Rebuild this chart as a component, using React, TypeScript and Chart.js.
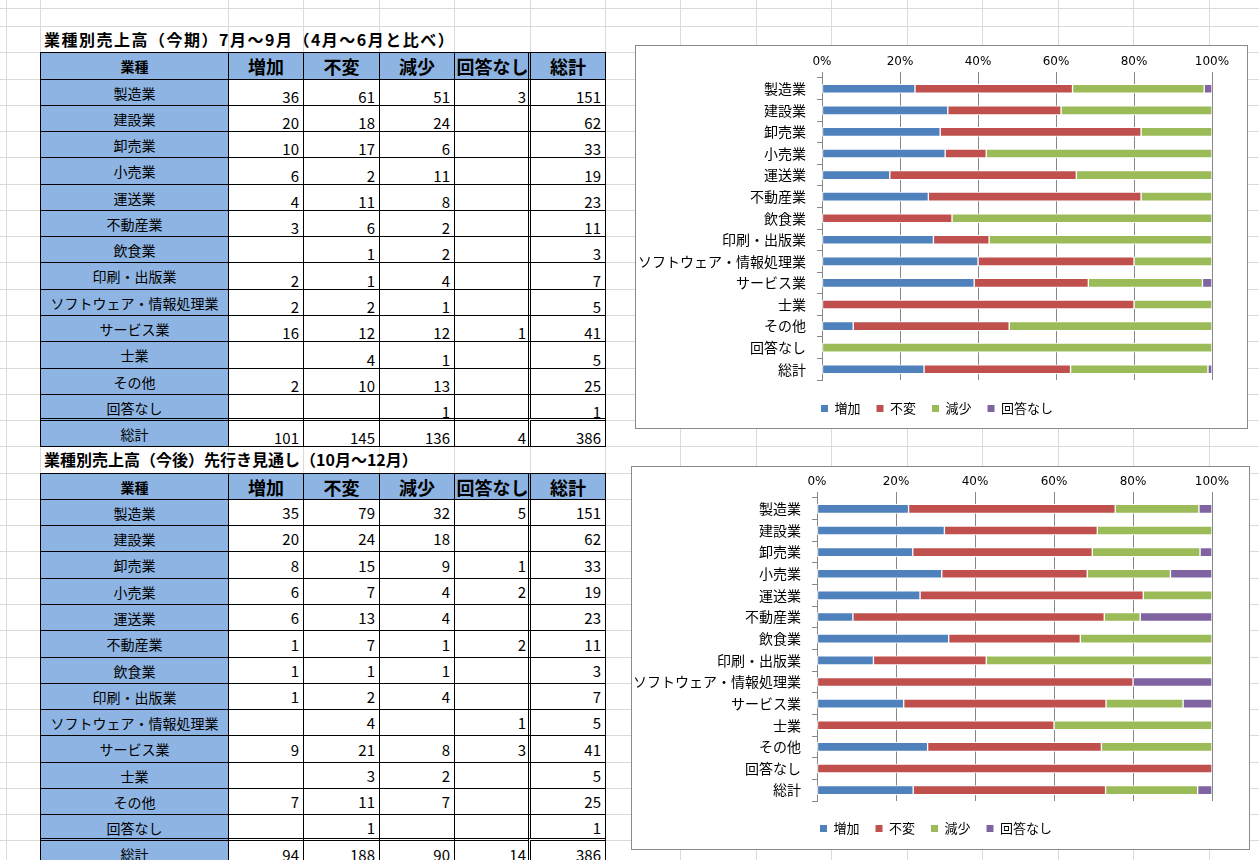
import React, { useEffect, useRef } from "react";
import { Chart, registerables } from "chart.js";

Chart.register(...registerables);

// ---------- data ----------
const industries = [
  "製造業",
  "建設業",
  "卸売業",
  "小売業",
  "運送業",
  "不動産業",
  "飲食業",
  "印刷・出版業",
  "ソフトウェア・情報処理業",
  "サービス業",
  "士業",
  "その他",
  "回答なし",
  "総計",
];
const seriesNames = ["増加", "不変", "減少", "回答なし"];
const tableHeaders = ["業種", "増加", "不変", "減少", "回答なし", "総計"];
const percentTicks = ["0%", "20%", "40%", "60%", "80%", "100%"];

const title1 = "業種別売上高（今期）7月～9月（4月～6月と比べ）";
const title2 = "業種別売上高（今後）先行き見通し（10月～12月）";

// 今期 (7月～9月)
const nowIncrease = [36, 20, 10, 6, 4, 3, null, 2, 2, 16, null, 2, null, 101];
const nowSame = [61, 18, 17, 2, 11, 6, 1, 1, 2, 12, 4, 10, null, 145];
const nowDecrease = [51, 24, 6, 11, 8, 2, 2, 4, 1, 12, 1, 13, 1, 136];
const nowNoAnswer = [3, null, null, null, null, null, null, null, null, 1, null, null, null, 4];
const nowTotal = [151, 62, 33, 19, 23, 11, 3, 7, 5, 41, 5, 25, 1, 386];

// 今後 (10月～12月)
const nextIncrease = [35, 20, 8, 6, 6, 1, 1, 1, null, 9, null, 7, null, 94];
const nextSame = [79, 24, 15, 7, 13, 7, 1, 2, 4, 21, 3, 11, 1, 188];
const nextDecrease = [32, 18, 9, 4, 4, 1, 1, 4, null, 8, 2, 7, null, 90];
const nextNoAnswer = [5, null, 1, 2, null, 2, null, null, 1, 3, null, null, null, 14];
const nextTotal = [151, 62, 33, 19, 23, 11, 3, 7, 5, 41, 5, 25, 1, 386];

const seriesColors = ["#4F81BD", "#C0504D", "#9BBB59", "#8064A2"];

// ---------- layout ----------
const FONT = "'Noto Sans CJK JP', sans-serif";
const gridColsX = [6, 40, 228, 303, 379, 454, 530, 605, 680, 756, 831, 907, 982, 1058, 1133, 1209];
const tableColsX = [40, 228, 303, 379, 454, 530, 605];
const ROW_H = 26.27;
const FIRST_ROW = 52.3;
const gridRowsY: number[] = [8];
for (let k = -1; k < 32; k++) gridRowsY.push(Math.round(FIRST_ROW + k * ROW_H));

type Num = number | null;

function SheetGrid() {
  return (
    <>
      {gridColsX.map((x) => (
        <div key={"c" + x} style={{ position: "absolute", left: x, top: 0, width: 1, height: 860, background: "#dadada" }} />
      ))}
      {gridRowsY.map((y, i) => (
        <div key={"r" + i} style={{ position: "absolute", left: 0, top: y, width: 1259, height: 1, background: "#dadada" }} />
      ))}
    </>
  );
}

function DataTable(props: {
  title: string;
  titleSpacing: number;
  top: number;
  cols: Num[][];
  valign: "flex-end" | "center";
}) {
  const rowTop = (k: number) => Math.round(props.top + k * ROW_H);
  const cells: React.ReactNode[] = [];
  for (let r = 0; r <= industries.length; r++) {
    for (let c = 0; c < 6; c++) {
      const x = tableColsX[c];
      const w = tableColsX[c + 1] - x;
      const y = rowTop(r);
      const h = rowTop(r + 1) - y;
      const style: React.CSSProperties = {
        position: "absolute",
        left: x,
        top: y,
        width: w + 1,
        height: h + 1,
        boxSizing: "border-box",
        border: "1px solid #000",
        background: r === 0 || c === 0 ? "#8DB4E2" : "#fff",
        display: "flex",
        alignItems: "center",
        justifyContent: "center",
        whiteSpace: "nowrap",
        color: "#000",
        overflow: "visible",
      };
      if (c === 5) {
        style.left = x - 2;
        style.width = w + 3;
        style.borderLeft = "3px double #000";
      }
      if (r === industries.length) {
        style.top = y - 2;
        style.height = h + 3;
        style.borderTop = "3px double #000";
      }
      let text: string = "";
      if (r === 0) {
        text = tableHeaders[c];
        style.fontWeight = "bold";
        style.fontSize = c === 0 ? 14 : 18;
      } else if (c === 0) {
        text = industries[r - 1];
        style.fontSize = 14;
      } else {
        const v = props.cols[c - 1][r - 1];
        text = v === null ? "" : String(v);
        style.fontSize = 15;
        style.justifyContent = "flex-end";
        style.alignItems = props.valign;
        style.paddingRight = 4;
        style.lineHeight = props.valign === "flex-end" ? "17px" : "normal";
      }
      cells.push(
        <div key={r + "-" + c} style={style}>
          {text}
        </div>
      );
    }
  }
  return (
    <>
      <div
        style={{
          position: "absolute",
          left: 44,
          top: rowTop(-1),
          height: ROW_H,
          lineHeight: ROW_H + "px",
          fontSize: 16,
          fontWeight: "bold",
          letterSpacing: props.titleSpacing,
          whiteSpace: "nowrap",
          color: "#000",
        }}
      >
        {props.title}
      </div>
      {cells}
    </>
  );
}

type ChartProps = {
  left: number;
  top: number;
  width: number;
  height: number;
  plotLeft: number;
  plotRight: number;
  plotTop: number;
  plotBottom: number;
  legendShift: number;
  legendShiftX: number;
  series: Num[][];
  totals: number[];
};

function StackedChart(p: ChartProps) {
  const ref = useRef<HTMLCanvasElement>(null);
  const cw = p.width - 2;
  const ch = p.height - 2;
  useEffect(() => {
    const legendPad = 16;
    const legendFont = 13;
    const legendHeight = legendFont + legendPad + 10;
    const shiftPlugin = {
      id: "legendShift",
      afterLayout(chart: any) {
        const lg = chart.legend;
        if (lg) {
          lg.top += p.legendShift;
          lg.bottom += p.legendShift;
          lg.left += p.legendShiftX;
          lg.right += p.legendShiftX;
        }
      },
    };
    const chart = new Chart(ref.current!, {
      type: "bar",
      data: {
        labels: industries,
        datasets: p.series.map((s, k) => ({
          label: seriesNames[k],
          data: s.map((v, i) => ((v ?? 0) / p.totals[i]) * 100),
          backgroundColor: seriesColors[k],
          borderColor: "#ffffff",
          borderWidth: 1,
          borderSkipped: false,
          barThickness: 9,
        })),
      },
      options: {
        indexAxis: "y",
        animation: false,
        responsive: false,
        maintainAspectRatio: false,
        layout: {
          padding: {
            left: 0,
            top: 0,
            right: cw - p.plotRight,
            bottom: ch - p.plotBottom - legendHeight,
          },
        },
        scales: {
          x: {
            position: "top",
            stacked: true,
            min: 0,
            max: 100,
            ticks: {
              stepSize: 20,
              callback: (v: any) => percentTicks[Math.round(Number(v) / 20)],
              color: "#000",
              font: { family: "'DejaVu Sans'", size: 12 },
              padding: 3,
              maxRotation: 0,
            },
            grid: { color: "#878787", tickLength: 6 },
            border: { display: false },
            afterFit: (s: any) => {
              s.height = p.plotTop;
            },
          },
          y: {
            stacked: true,
            ticks: {
              color: "#000",
              font: { family: "'Noto Sans CJK JP'", size: 14 },
              padding: 11,
              autoSkip: false,
            },
            grid: { drawOnChartArea: false, color: "#878787", tickLength: 5 },
            border: { display: true, color: "#878787" },
            afterFit: (s: any) => {
              s.width = p.plotLeft;
            },
          },
        },
        plugins: {
          legend: {
            position: "bottom",
            labels: {
              boxWidth: 7,
              boxHeight: 7,
              padding: legendPad,
              color: "#000",
              font: { family: "'Noto Sans CJK JP'", size: legendFont },
              generateLabels: (c: any) =>
                Chart.defaults.plugins.legend.labels
                  .generateLabels(c)
                  .map((l: any) => ({ ...l, lineWidth: 0 })),
            },
          },
          tooltip: { enabled: false },
        },
      } as any,
      plugins: [shiftPlugin],
    });
    return () => chart.destroy();
  }, []);
  return (
    <div
      style={{
        position: "absolute",
        left: p.left,
        top: p.top,
        width: p.width,
        height: p.height,
        border: "1px solid #8a8a8a",
        boxSizing: "border-box",
        background: "#fff",
      }}
    >
      <canvas ref={ref} width={cw} height={ch} style={{ display: "block", width: cw, height: ch }} />
    </div>
  );
}

export default function App() {
  return (
    <div
      style={{
        position: "fixed",
        left: 0,
        top: 0,
        width: 1259,
        height: 860,
        background: "#fff",
        overflow: "hidden",
        fontFamily: FONT,
      }}
    >
      <SheetGrid />
      <DataTable
        title={title1}
        titleSpacing={1.5}
        top={FIRST_ROW}
        cols={[nowIncrease, nowSame, nowDecrease, nowNoAnswer, nowTotal]}
        valign="flex-end"
      />
      <DataTable
        title={title2}
        titleSpacing={0}
        top={FIRST_ROW + 16 * ROW_H}
        cols={[nextIncrease, nextSame, nextDecrease, nextNoAnswer, nextTotal]}
        valign="center"
      />
      <StackedChart
        left={635}
        top={45}
        width={613}
        height={384}
        plotLeft={186}
        plotRight={576}
        plotTop={32}
        plotBottom={334}
        legendShift={6}
        legendShiftX={13}
        series={[nowIncrease, nowSame, nowDecrease, nowNoAnswer]}
        totals={nowTotal}
      />
      <StackedChart
        left={631}
        top={466}
        width={619}
        height={384}
        plotLeft={185}
        plotRight={580}
        plotTop={31}
        plotBottom={334}
        legendShift={5}
        legendShiftX={14}
        series={[nextIncrease, nextSame, nextDecrease, nextNoAnswer]}
        totals={nextTotal}
      />
    </div>
  );
}
